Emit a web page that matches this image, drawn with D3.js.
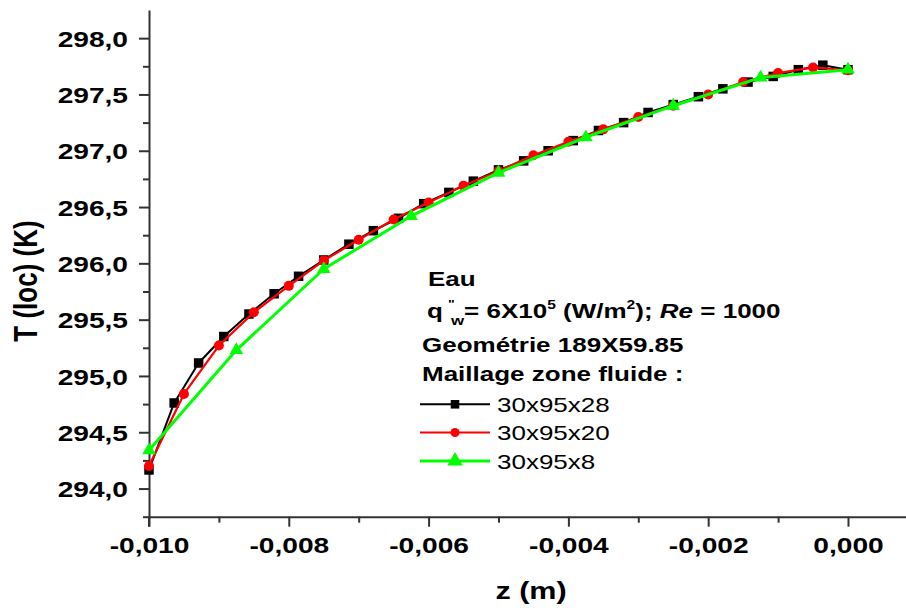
<!DOCTYPE html>
<html><head><meta charset="utf-8">
<script src="https://cdn.jsdelivr.net/npm/d3@7"></script>
<style>
body{margin:0;background:#fff;}
svg{display:block;font-family:"Liberation Sans",Arial,sans-serif;}
</style>
</head><body>
<svg id="c" width="906" height="608"></svg>
<script>
// ---------------- DATA ----------------
const zBlack = [-0.01000,-0.00964,-0.00929,-0.00893,-0.00857,-0.00821,-0.00786,-0.00750,-0.00714,-0.00679,
  -0.00643,-0.00607,-0.00571,-0.00536,-0.00500,-0.00464,-0.00429,-0.00393,-0.00357,-0.00321,
  -0.00286,-0.00250,-0.00214,-0.00179,-0.00143,-0.00107,-0.00071,-0.00036,0.00000];
const tBlack = [294.165,294.76,295.115,295.35,295.55,295.73,295.885,296.03,296.17,296.29,
  296.40,296.53,296.63,296.73,296.83,296.91,297.00,297.09,297.18,297.25,
  297.34,297.41,297.48,297.55,297.61,297.66,297.72,297.76,297.72];

const zRed = [-0.0100,-0.0095,-0.0090,-0.0085,-0.0080,-0.0075,-0.0070,-0.0065,-0.0060,-0.0055,
  -0.0050,-0.0045,-0.0040,-0.0035,-0.0030,-0.0025,-0.0020,-0.0015,-0.0010,-0.0005,0.0000];
const tRed = [294.20,294.84,295.27,295.565,295.80,296.025,296.21,296.39,296.54,296.69,
  296.82,296.96,297.08,297.19,297.30,297.40,297.50,297.61,297.69,297.74,297.715];

const zGreen = [-0.01000,-0.00875,-0.00750,-0.00625,-0.00500,-0.00375,-0.00250,-0.00125,0.00000];
const tGreen = [294.34,295.23,295.95,296.42,296.805,297.12,297.40,297.65,297.72];

const seriesNames = ["30x95x28","30x95x20","30x95x8"];
const seriesColors = ["#000000","#ff0000","#00ff00"];

const xTickValues = [-0.010,-0.008,-0.006,-0.004,-0.002,0.000];
const xTickLabels = ["-0,010","-0,008","-0,006","-0,004","-0,002","0,000"];
const xMinorTicks = [-0.009,-0.007,-0.005,-0.003,-0.001];
const yTickValues = [294.0,294.5,295.0,295.5,296.0,296.5,297.0,297.5,298.0];
const yTickLabels = ["294,0","294,5","295,0","295,5","296,0","296,5","297,0","297,5","298,0"];
const yMinorTicks = [293.75,294.25,294.75,295.25,295.75,296.25,296.75,297.25,297.75];

const xTitle = "z (m)";
const yTitle = "T (loc) (K)";
const legendHeader = ["Eau", "Geométrie 189X59.85", "Maillage zone fluide :"];

// ---------------- DRAW ----------------
const SX = 1.3;   // horizontal stretch of the reference's lettering
const SXT = 1.25; // stretch for tick labels
const svg = d3.select("#c");
const x = d3.scaleLinear().domain([-0.010, 0.00083]).range([149, 906]);
const y = d3.scaleLinear().domain([293.75, 298.25]).range([516.7, 10]);
const axisColor = "#333";

// left axis (major)
const gy = svg.append("g").attr("transform","translate(149,0)")
  .call(d3.axisLeft(y).tickValues(yTickValues).tickFormat((d,i)=>yTickLabels[i]).tickSize(10).tickSizeOuter(0));
gy.select(".domain").attr("stroke",axisColor).attr("stroke-width",2);
gy.selectAll(".tick line").attr("stroke",axisColor).attr("stroke-width",2);
gy.selectAll(".tick text")
  .attr("font-family","'Liberation Sans',Arial,sans-serif").attr("font-size",22.5).attr("font-weight","bold")
  .attr("fill","#000").attr("x",-21/SXT).attr("dy","0.36em").attr("transform",`scale(${SXT},1)`);
// left axis (minor)
const gym = svg.append("g").attr("transform","translate(149,0)")
  .call(d3.axisLeft(y).tickValues(yMinorTicks).tickFormat("").tickSize(6).tickSizeOuter(0));
gym.select(".domain").remove();
gym.selectAll(".tick line").attr("stroke",axisColor).attr("stroke-width",2);

// bottom axis (major)
const gx = svg.append("g").attr("transform","translate(0,516.7)")
  .call(d3.axisBottom(x).tickValues(xTickValues).tickFormat((d,i)=>xTickLabels[i]).tickSize(10).tickSizeOuter(0));
gx.select(".domain").attr("stroke",axisColor).attr("stroke-width",2);
gx.selectAll(".tick line").attr("stroke",axisColor).attr("stroke-width",2);
gx.selectAll(".tick text")
  .attr("font-family","'Liberation Sans',Arial,sans-serif").attr("font-size",22.5).attr("font-weight","bold")
  .attr("fill","#000").attr("y",36.5).attr("dy",0).attr("transform",`scale(${SXT},1)`);
const gxm = svg.append("g").attr("transform","translate(0,516.7)")
  .call(d3.axisBottom(x).tickValues(xMinorTicks).tickFormat("").tickSize(6).tickSizeOuter(0));
gxm.select(".domain").remove();
gxm.selectAll(".tick line").attr("stroke",axisColor).attr("stroke-width",2);

// extend left axis to bottom corner
svg.append("line").attr("x1",149).attr("x2",149).attr("y1",y(293.75)).attr("y2",y(293.75)+10)
  .attr("stroke",axisColor).attr("stroke-width",2);

// axis titles
svg.append("g").attr("transform",`translate(531,599) scale(${SX},1)`)
  .append("text").attr("text-anchor","middle").attr("font-size",23.5).attr("font-weight","bold")
  .attr("fill","#000").text(xTitle);
svg.append("g").attr("transform",`translate(37,281) scale(${SX},1) rotate(-90)`)
  .append("text").attr("text-anchor","middle").attr("font-size",26).attr("font-weight","bold")
  .attr("fill","#000").text(yTitle);

// series
const series = [
  {z:zBlack, t:tBlack, color:seriesColors[0], shape:"square", w:2},
  {z:zRed, t:tRed, color:seriesColors[1], shape:"circle", w:2.2},
  {z:zGreen, t:tGreen, color:seriesColors[2], shape:"triangle", w:3}
];
const line = d3.line().x(d=>x(d[0])).y(d=>y(d[1]));
function drawMarker(g, shape, color, cx, cy, scale){
  if(shape==="square"){
    const s = 9.5*scale;
    g.append("rect").attr("x",cx-s/2).attr("y",cy-s/2).attr("width",s).attr("height",s).attr("fill",color);
  } else if(shape==="circle"){
    g.append("circle").attr("cx",cx).attr("cy",cy).attr("r",5*scale).attr("fill",color);
  } else {
    g.append("path").attr("d",d3.symbol(d3.symbolTriangle, 80*scale*scale)())
      .attr("transform",`translate(${cx},${cy})`).attr("fill",color);
  }
}
series.forEach(s=>{
  const pts = s.z.map((z,i)=>[z,s.t[i]]);
  const g = svg.append("g");
  g.append("path").attr("d",line(pts)).attr("fill","none").attr("stroke",s.color)
    .attr("stroke-width",s.w).attr("stroke-linejoin","round");
  pts.forEach(p=>drawMarker(g,s.shape,s.color,x(p[0]),y(p[1]),1));
});

// legend header text
function stretchedText(px, py){
  return svg.append("g").attr("transform",`translate(${px},${py}) scale(${SX},1)`)
    .append("text").attr("font-size",20).attr("font-weight","bold").attr("fill","#000");
}
stretchedText(428,285.5).text(legendHeader[0]);
const q = stretchedText(427,318.3);
q.append("tspan").text("q");
q.append("tspan").attr("font-size",11).attr("dx",4).attr("dy",-10).text("\"");
q.append("tspan").attr("font-size",13).attr("dx",-3).attr("dy",17).text("w");
q.append("tspan").attr("dy",-7).text("= 6X10");
q.append("tspan").attr("font-size",12).attr("dy",-9).text("5");
q.append("tspan").attr("dy",9).text(" (W/m");
q.append("tspan").attr("font-size",12).attr("dy",-9).text("2");
q.append("tspan").attr("dy",9).text("); ");
q.append("tspan").attr("font-style","italic").text("Re");
q.append("tspan").text(" = 1000");
stretchedText(422,351.7).text(legendHeader[1]);
stretchedText(422,380.7).text(legendHeader[2]);

// legend entries
const legY = [404.3, 432.5, 461];
series.forEach((s,i)=>{
  const g = svg.append("g");
  g.append("line").attr("x1",420).attr("x2",490).attr("y1",legY[i]).attr("y2",legY[i])
    .attr("stroke",s.color).attr("stroke-width",s.w);
  drawMarker(g,s.shape,s.color,455,legY[i],i===2?1.15:0.9);
  svg.append("g").attr("transform",`translate(497,${legY[i]+7.5}) scale(${SX},1)`)
    .append("text").attr("font-size",20).attr("fill","#000").text(seriesNames[i]);
});
</script>
</body></html>
